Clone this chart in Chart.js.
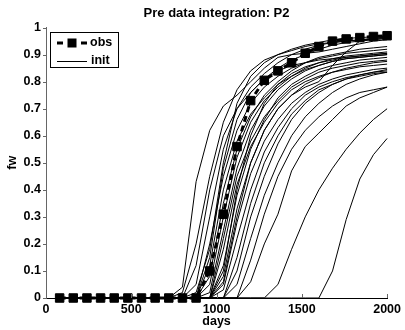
<!DOCTYPE html>
<html>
<head>
<meta charset="utf-8">
<script src="https://cdn.jsdelivr.net/npm/chart.js@4/dist/chart.umd.min.js"></script>
<style>
  html, body { margin: 0; padding: 0; background: #fff; }
  #wrap { width: 405px; height: 330px; }
</style>
</head>
<body>
<div id="wrap"><canvas id="c" width="405" height="330"></canvas></div>
<script>
// ---- data ----
const days = [80,160,240,320,400,480,560,640,720,800,880,960,1040,1120,1200,1280,1360,1440,1520,1600,1680,1760,1840,1920,2000];
const obs  = [0,0,0,0,0,0,0,0,0,0,0,0.10,0.31,0.56,0.73,0.805,0.84,0.87,0.905,0.93,0.95,0.958,0.963,0.967,0.97];

const init01 = [0,0,0,0,0,0,0,0,0,0.04,0.43,0.62,0.71,0.75,0.80,0.85,0.89,0.90,0.905,0.91,0.92,0.93,0.94,0.95,0.955];
const init02 = [0,0,0,0,0,0,0,0,0,0,0.12,0.40,0.60,0.70,0.76,0.81,0.85,0.88,0.90,0.92,0.935,0.945,0.95,0.955,0.96];
const init03 = [0,0,0,0,0,0,0,0,0,0,0.05,0.30,0.55,0.70,0.78,0.83,0.87,0.90,0.92,0.935,0.945,0.95,0.955,0.96,0.965];
const init04 = [0,0,0,0,0,0,0,0,0,0,0,0.20,0.45,0.62,0.72,0.78,0.82,0.85,0.87,0.885,0.895,0.905,0.91,0.915,0.92];
const init05 = [0,0,0,0,0,0,0,0,0,0,0,0.12,0.40,0.58,0.68,0.74,0.79,0.82,0.845,0.86,0.875,0.885,0.89,0.895,0.90];
const init06 = [0,0,0,0,0,0,0,0,0,0,0,0.08,0.35,0.55,0.67,0.75,0.80,0.84,0.87,0.89,0.90,0.91,0.92,0.925,0.93];
const init07 = [0,0,0,0,0,0,0,0,0,0,0,0.05,0.30,0.52,0.65,0.73,0.78,0.82,0.85,0.87,0.885,0.895,0.90,0.905,0.91];
const init08 = [0,0,0,0,0,0,0,0,0,0,0,0.02,0.25,0.48,0.62,0.71,0.77,0.81,0.84,0.86,0.875,0.885,0.89,0.895,0.90];
const init09 = [0,0,0,0,0,0,0,0,0,0,0,0,0.22,0.45,0.58,0.67,0.73,0.78,0.81,0.835,0.85,0.86,0.87,0.875,0.88];
const init10 = [0,0,0,0,0,0,0,0,0,0,0,0,0.18,0.42,0.56,0.65,0.72,0.77,0.80,0.82,0.835,0.845,0.855,0.86,0.865];
const init11 = [0,0,0,0,0,0,0,0,0,0,0,0,0.12,0.38,0.55,0.66,0.74,0.79,0.82,0.845,0.86,0.87,0.88,0.885,0.89];
const init12 = [0,0,0,0,0,0,0,0,0,0,0,0,0.08,0.33,0.50,0.62,0.70,0.75,0.79,0.815,0.835,0.85,0.86,0.87,0.875];
const init13 = [0,0,0,0,0,0,0,0,0,0,0,0,0.05,0.28,0.46,0.58,0.66,0.72,0.76,0.79,0.81,0.825,0.835,0.845,0.85];
const init14 = [0,0,0,0,0,0,0,0,0,0,0,0,0.03,0.22,0.40,0.54,0.63,0.70,0.75,0.78,0.80,0.815,0.825,0.835,0.84];
const init15 = [0,0,0,0,0,0,0,0,0,0,0,0,0,0.15,0.35,0.50,0.60,0.68,0.73,0.77,0.79,0.81,0.82,0.83,0.835];
const init16 = [0,0,0,0,0,0,0,0,0,0,0,0,0,0.10,0.30,0.45,0.57,0.66,0.72,0.76,0.79,0.81,0.825,0.835,0.845];
const init17 = [0,0,0,0,0,0,0,0,0,0,0,0,0,0.05,0.22,0.38,0.50,0.60,0.67,0.72,0.76,0.79,0.81,0.825,0.835];
const init18 = [0,0,0,0,0,0,0,0,0,0,0,0,0,0,0.14,0.31,0.45,0.55,0.62,0.67,0.71,0.74,0.76,0.77,0.78];
const init19 = [0,0,0,0,0,0,0,0,0,0,0,0,0,0,0,0,0.05,0.18,0.30,0.40,0.48,0.55,0.61,0.66,0.70];
const init20 = [0,0,0,0,0,0,0,0,0,0,0,0,0,0,0,0,0,0,0,0,0.10,0.29,0.44,0.53,0.59];
const init21 = [0,0,0,0,0,0,0,0,0,0,0,0,0.06,0.30,0.50,0.62,0.70,0.75,0.78,0.80,0.86,0.91,0.95,0.96,0.965];
const init22 = [0,0,0,0,0,0,0,0,0,0,0.02,0.18,0.50,0.72,0.82,0.87,0.90,0.92,0.935,0.945,0.955,0.96,0.963,0.966,0.968];
const init23 = [0,0,0,0,0,0,0,0,0,0.02,0.20,0.45,0.65,0.77,0.84,0.88,0.90,0.915,0.93,0.94,0.945,0.95,0.955,0.958,0.96];
const init24 = [0,0,0,0,0,0,0,0,0,0,0,0.15,0.48,0.66,0.76,0.81,0.84,0.86,0.87,0.88,0.885,0.89,0.895,0.90,0.905];
const init25 = [0,0,0,0,0,0,0,0,0,0,0,0,0.10,0.40,0.60,0.72,0.79,0.83,0.855,0.87,0.88,0.89,0.895,0.90,0.905];
const init26 = [0,0,0,0,0,0,0,0,0,0,0,0,0,0,0.06,0.20,0.31,0.47,0.56,0.61,0.66,0.71,0.74,0.76,0.78];

const xTicks = [0,500,1000,1500,2000];
const yTicks = [0,0.1,0.2,0.3,0.4,0.5,0.6,0.7,0.8,0.9,1];
const yTickLabels = ['0','0.1','0.2','0.3','0.4','0.5','0.6','0.7','0.8','0.9','1'];
const xTickLabels = ['0','500','1000','1500','2000'];

const initSeries = [init01,init02,init03,init04,init05,init06,init07,init08,init09,init10,init11,init12,init13,
  init14,init15,init16,init17,init18,init19,init20,init21,init22,init23,init24,init25,init26];

// ---- build ----
const FONT = "'Liberation Sans', Arial, Helvetica, sans-serif";
const toPts = arr => days.map((d, i) => ({x: d, y: arr[i]}));

const datasets = [{
  label: 'obs',
  data: toPts(obs),
  borderColor: '#000',
  backgroundColor: '#000',
  borderWidth: 3,
  borderDash: [6, 4],
  pointStyle: 'rect',
  pointRadius: 6,
  pointBorderWidth: 1,
  pointBackgroundColor: '#000',
  pointBorderColor: '#000',
  clip: false,
  order: 0
}];
initSeries.forEach((s, k) => datasets.push({
  label: k === 0 ? 'init' : 'init' + (k + 1),
  data: toPts(s),
  borderColor: '#000',
  borderWidth: 1,
  pointRadius: 0,
  clip: false,
  order: 1
}));

const axisPlugin = {
  id: 'axisTicksAndLegend',
  afterDraw(chart) {
    const ctx = chart.ctx;
    const xs = chart.scales.x, ys = chart.scales.y;
    const ca = chart.chartArea;
    ctx.save();
    ctx.strokeStyle = '#666';
    ctx.lineWidth = 1;
    ctx.setLineDash([]);
    ctx.beginPath();
    yTicks.forEach(v => {
      const py = Math.round(ys.getPixelForValue(v)) + 0.5;
      ctx.moveTo(ca.left - 3, py); ctx.lineTo(ca.left, py);
    });
    xTicks.forEach(v => {
      const px = Math.round(xs.getPixelForValue(v)) + 0.5;
      ctx.moveTo(px, ca.bottom); ctx.lineTo(px, ca.bottom - 4);
    });
    ctx.stroke();

    // legend box
    const bx = 50.5, by = 32.5, bw = 68, bh = 35;
    ctx.fillStyle = '#fff';
    ctx.fillRect(bx, by, bw, bh);
    ctx.strokeStyle = '#000';
    ctx.lineWidth = 1;
    ctx.strokeRect(bx, by, bw, bh);
    const r1 = 43, r2 = 61;
    ctx.lineWidth = 3;
    ctx.beginPath();
    ctx.moveTo(57, r1); ctx.lineTo(63, r1);
    ctx.moveTo(81, r1); ctx.lineTo(87, r1);
    ctx.stroke();
    ctx.fillStyle = '#000';
    ctx.fillRect(67.5, r1 - 4.5, 9, 9);
    ctx.lineWidth = 1;
    ctx.beginPath();
    ctx.moveTo(57, r2 + 0.5); ctx.lineTo(87, r2 + 0.5);
    ctx.stroke();
    ctx.font = "bold 12.5px " + FONT;
    ctx.textBaseline = 'middle';
    ctx.textAlign = 'left';
    ctx.fillText(datasets[0].label, 90, r1);
    ctx.fillText(datasets[1].label, 91, r2);
    ctx.restore();
  }
};

new Chart(document.getElementById('c'), {
  type: 'line',
  data: { datasets },
  plugins: [axisPlugin],
  options: {
    responsive: false,
    animation: false,
    devicePixelRatio: 1,
    layout: { padding: { left: 0, right: 15, top: 0, bottom: 0 } },
    plugins: {
      legend: { display: false },
      tooltip: { enabled: false },
      title: {
        display: true,
        fullSize: false,
        text: 'Pre data integration: P2',
        color: '#000',
        font: { family: FONT, size: 13, weight: 'bold' },
        padding: { top: 6, bottom: 6 }
      }
    },
    scales: {
      x: {
        type: 'linear',
        min: 0, max: 2000,
        afterBuildTicks: s => { s.ticks = xTicks.map(v => ({value: v})); },
        afterFit: s => { s.height = 32; },
        grid: { display: true, drawOnChartArea: false, drawTicks: false },
        border: { display: true, color: '#000', width: 1 },
        ticks: {
          color: '#000',
          padding: 4,
          maxRotation: 0,
          font: { family: FONT, size: 12.5, weight: 'bold' },
          callback: (v) => xTickLabels[xTicks.indexOf(v)]
        },
        title: {
          display: true, text: 'days', color: '#000',
          font: { family: FONT, size: 12.5, weight: 'bold' },
          padding: { top: 0, bottom: 1 }
        }
      },
      y: {
        type: 'linear',
        min: 0, max: 1,
        afterBuildTicks: s => { s.ticks = yTicks.map(v => ({value: v})); },
        afterFit: s => { s.width = 46; },
        grid: { display: true, drawOnChartArea: false, drawTicks: false },
        border: { display: true, color: '#666', width: 1 },
        ticks: {
          color: '#000',
          padding: 5,
          font: { family: FONT, size: 12.5, weight: 'bold' },
          callback: (v) => yTickLabels[yTicks.indexOf(v)]
        },
        title: {
          display: true, text: 'fw', color: '#000',
          font: { family: FONT, size: 12.5, weight: 'bold' },
          padding: { top: 5, bottom: 0 }
        }
      }
    }
  }
});
</script>
</body>
</html>
